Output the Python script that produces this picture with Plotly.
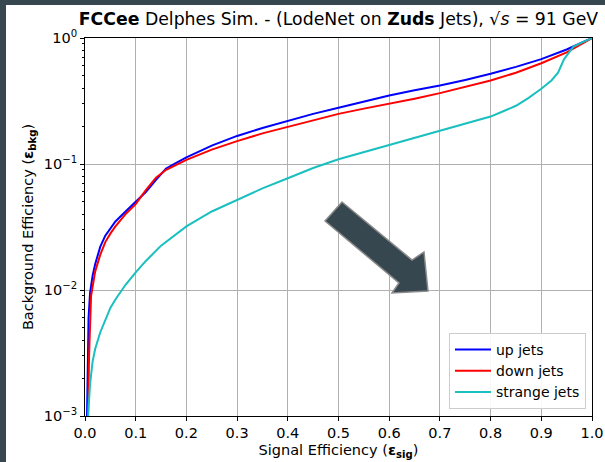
import plotly.graph_objects as go

# ---- data ----
up_x = [0.004, 0.005, 0.007, 0.01, 0.015, 0.02, 0.03, 0.04, 0.05, 0.06, 0.08, 0.1, 0.12, 0.14, 0.16, 0.18,
        0.2, 0.25, 0.3, 0.35, 0.4, 0.45, 0.5, 0.55, 0.6, 0.65, 0.7, 0.75, 0.8, 0.85, 0.9, 0.95, 1.0]
up_y = [0.001, 0.002, 0.006, 0.0095, 0.013, 0.016, 0.022, 0.027, 0.031, 0.035, 0.042, 0.05, 0.06, 0.075,
        0.092, 0.102, 0.113, 0.14, 0.167, 0.193, 0.22, 0.25, 0.28, 0.315, 0.35, 0.385, 0.42, 0.465, 0.52,
        0.59, 0.68, 0.81, 1.0]

down_x = [0.006, 0.008, 0.012, 0.02, 0.03, 0.04, 0.05, 0.06, 0.08, 0.1, 0.12, 0.14, 0.16, 0.18, 0.2,
          0.25, 0.3, 0.35, 0.4, 0.45, 0.5, 0.55, 0.6, 0.65, 0.7, 0.75, 0.8, 0.85, 0.9, 0.95, 1.0]
down_y = [0.001, 0.003, 0.009, 0.014, 0.019, 0.024, 0.028, 0.032, 0.04, 0.048, 0.062, 0.078, 0.09, 0.099,
          0.108, 0.13, 0.152, 0.175, 0.198, 0.223, 0.25, 0.275, 0.30, 0.33, 0.365, 0.41, 0.46, 0.53, 0.63,
          0.77, 1.0]

strange_x = [0.006, 0.01, 0.015, 0.02, 0.03, 0.04, 0.05, 0.06, 0.08, 0.1, 0.12, 0.15, 0.2, 0.25, 0.3,
             0.35, 0.4, 0.45, 0.5, 0.55, 0.6, 0.65, 0.7, 0.75, 0.8, 0.825, 0.85, 0.875, 0.9, 0.92, 0.933,
             0.945, 0.963, 0.98, 1.0]
strange_y = [0.001, 0.0018, 0.0027, 0.0034, 0.0046, 0.0058, 0.0072, 0.0084, 0.011, 0.0138, 0.017, 0.0225,
             0.032, 0.042, 0.052, 0.064, 0.077, 0.093, 0.109, 0.124, 0.141, 0.16, 0.182, 0.208, 0.238, 0.262,
             0.29, 0.335, 0.395, 0.46, 0.53, 0.68, 0.85, 0.92, 1.0]

x_ticks = [0.0, 0.1, 0.2, 0.3, 0.4, 0.5, 0.6, 0.7, 0.8, 0.9, 1.0]
y_ticks = [0.001, 0.01, 0.1, 1.0]
y_ticktext = ["10<sup>\u22123</sup>", "10<sup>\u22122</sup>", "10<sup>\u22121</sup>", "10<sup>0</sup>"]

FONT = "DejaVu Sans"
FS = 14.5

fig = go.Figure()
fig.add_trace(go.Scatter(x=up_x, y=up_y, mode="lines", name="up jets",
                         line=dict(color="#0000ff", width=2)))
fig.add_trace(go.Scatter(x=down_x, y=down_y, mode="lines", name="down jets",
                         line=dict(color="#ff0000", width=2)))
fig.add_trace(go.Scatter(x=strange_x, y=strange_y, mode="lines", name="strange jets",
                         line=dict(color="#1abfbf", width=2)))

# plot area in pixels
L, R, T, B = 85, 592, 38, 416
W, H = 605, 462
pw, ph = R - L, B - T


def px(xp):
    return (xp - L) / pw


def py(yp):
    return (B - yp) / ph


shapes = []
# dark frame strips (left and top)
shapes.append(dict(type="rect", xref="paper", yref="paper", x0=px(0), x1=px(6), y0=py(H), y1=py(0),
                   fillcolor="#37474f", line=dict(width=0), layer="above"))
shapes.append(dict(type="rect", xref="paper", yref="paper", x0=px(0), x1=px(W), y0=py(5), y1=py(0),
                   fillcolor="#37474f", line=dict(width=0), layer="above"))

# arrow
arrow_pts = [(342, 202), (412, 260), (424, 252), (428, 291), (392, 293), (399, 283), (325, 221)]
path = "M " + " L ".join(f"{px(a):.4f},{py(b):.4f}" for a, b in arrow_pts) + " Z"
shapes.append(dict(type="path", xref="paper", yref="paper", path=path,
                   fillcolor="#37474f", line=dict(color="#8a8a8a", width=1.5), layer="above"))

fig.update_layout(
    width=W, height=H,
    margin=dict(l=L, r=W - R, t=T, b=H - B, autoexpand=False),
    paper_bgcolor="white", plot_bgcolor="white",
    font=dict(family=FONT, size=FS, color="black"),
    title=dict(text="<b>FCCee</b> Delphes Sim. - (LodeNet on <b>Zuds</b> Jets), \u221a<i>s</i> = 91 GeV",
               x=(L + R) / 2 / W, xanchor="center", y=1 - 19 / H, yanchor="middle",
               font=dict(family=FONT, size=17.3, color="black")),
    showlegend=True,
    legend=dict(x=px(586), xanchor="right", y=py(409), yanchor="bottom",
                bgcolor="rgba(255,255,255,0.9)", bordercolor="#cccccc", borderwidth=1,
                font=dict(family=FONT, size=14), tracegroupgap=0,
                itemwidth=36),
    shapes=shapes,
)

fig.update_xaxes(range=[0, 1], tickvals=x_ticks, ticktext=[f"{v:.1f}" for v in x_ticks],
                 showgrid=True, gridcolor="#b0b0b0", gridwidth=1, automargin=False,
                 showline=True, linecolor="black", linewidth=1, mirror=True,
                 ticks="outside", ticklen=4, tickcolor="black", zeroline=False,
                 title=dict(text="Signal Efficiency (<b>\u03b5</b><sub><b>sig</b></sub>)", standoff=4,
                            font=dict(family=FONT, size=FS)),
                 tickfont=dict(family=FONT, size=FS))
fig.update_yaxes(type="log", range=[-3, 0], tickvals=y_ticks, ticktext=y_ticktext,
                 showgrid=True, gridcolor="#b0b0b0", gridwidth=1, automargin=False,
                 showline=True, linecolor="black", linewidth=1, mirror=True,
                 ticks="outside", ticklen=4, tickcolor="black", zeroline=False,
                 minor=dict(ticks="outside", ticklen=2, tickcolor="black", showgrid=False,
                            tickvals=[m * 10 ** e for e in (-3, -2, -1) for m in range(2, 10)]),
                 title=dict(text="Background Efficiency (<b>\u03b5</b><sub><b>bkg</b></sub>)", standoff=6,
                            font=dict(family=FONT, size=FS)),
                 tickfont=dict(family=FONT, size=FS))

fig.write_html("out.html", config={"displayModeBar": False},
               post_script="document.body.style.margin='0';document.body.style.padding='0';")
